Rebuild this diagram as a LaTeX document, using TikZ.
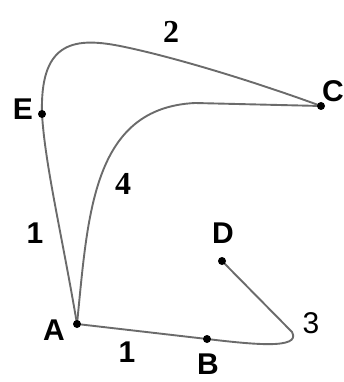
\documentclass[tikz,border=0pt]{standalone}
\usepackage{fontspec}
\setmainfont{Liberation Sans}
\newfontfamily\serifnum{Liberation Serif}
\begin{document}
\begin{tikzpicture}[x=1pt,y=-1pt,
  edge/.style={draw=black!58,line width=1.9pt},
  pt/.style={circle,fill=black,inner sep=0pt,minimum size=8pt},
  lbl/.style={font=\fontsize{30}{30}\selectfont\bfseries,inner sep=0pt},
  num/.style={font=\fontsize{30}{30}\selectfont\bfseries,inner sep=0pt},
  snum/.style={font=\fontsize{32}{32}\selectfont\serifnum\bfseries,inner sep=0pt},
  rnum/.style={font=\fontsize{30}{30}\selectfont,inner sep=0pt}]
\useasboundingbox (0,0) rectangle (344,382);
\coordinate (A) at (77,324);
\coordinate (B) at (207,339);
\coordinate (C) at (321,106);
\coordinate (D) at (222,261);
\coordinate (E) at (42,114);
% edges
\draw[edge] (A) .. controls (62,235) and (45,165) .. (E);
\draw[edge] (E) .. controls (40,45) and (70,36) .. (120,46)
            .. controls (170,56) and (250,80) .. (C);
\draw[edge] (A) .. controls (88,215) and (92,108) .. (195,103) -- (C);
\draw[edge] (A) -- (B);
\draw[edge] (B) .. controls (250,344) and (302,350) .. (292,332) -- (D);
% points
\node[pt] (nA) at (A) {};
\node[pt] (nB) at (B) {};
\node[pt] (nC) at (C) {};
\node[pt] (nD) at (D) {};
\node[pt] (nE) at (E) {};
% labels
\node[lbl] (tA) at (54,330) {A};
\node[lbl] (tB) at (208,364) {B};
\node[lbl] (tC) at (333,91) {C};
\node[lbl] (tD) at (223,233) {D};
\node[lbl] (tE) at (23,109) {E};
\node[num] (l1) at (35,233) {1};
\node[num] (l1b) at (127,352) {1};
\node[snum] (l2) at (171,32) {2};
\node[snum] (l4) at (123,184) {4};
\node[rnum] (l3) at (311,323) {3};
\end{tikzpicture}
\end{document}
